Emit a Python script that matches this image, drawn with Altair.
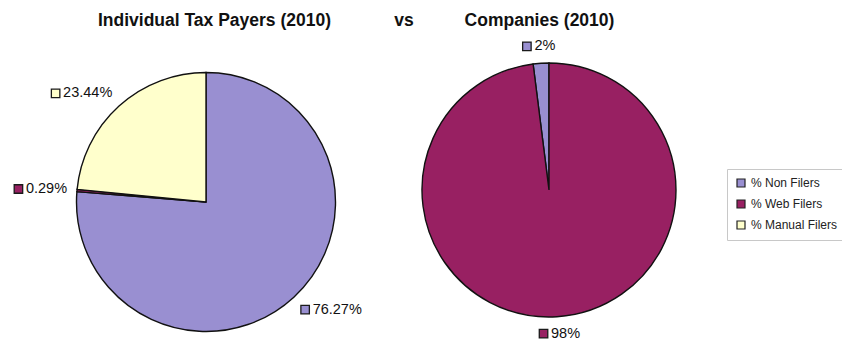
import altair as alt
import pandas as pd

# ---------------- data ----------------
categories = ["% Non Filers", "% Web Filers", "% Manual Filers"]
colors = ["#998fd1", "#982062", "#ffffcc"]

pie_titles = ["Individual Tax Payers (2010)", "Companies (2010)"]
middle_title = "vs"

individual_values = [76.27, 0.29, 23.44]
individual_labels = ["76.27%", "0.29%", "23.44%"]
individual_order = [1, 2, 3]

company_values = [2, 98, 0]
company_labels = ["2%", "98%", "0%"]
company_order = [2, 1, 3]

rows = []
for key, vals, labs, ords in [
    ("ind", individual_values, individual_labels, individual_order),
    ("comp", company_values, company_labels, company_order),
]:
    for c, v, l, o in zip(categories, vals, labs, ords):
        if v > 0:
            rows.append(dict(pie=key, category=c, value=v, label=l, ord=o))
df = pd.DataFrame(rows)

# ---------------- layout ----------------
CX = {"ind": 198, "comp": 541}
CY = {"ind": 194, "comp": 182}
R = {"ind": 129.5, "comp": 127}
FONT = "Liberation Sans"
LFS = 14.5  # label font size

color = alt.Color(
    "category:N",
    scale=alt.Scale(domain=categories, range=colors),
    legend=alt.Legend(
        orient="none", legendX=719, legendY=161, title=None,
        symbolType="square", symbolSize=64, symbolStrokeColor="#222222",
        symbolStrokeWidth=1.2, symbolOpacity=1,
        labelFont=FONT, labelFontSize=12, labelColor="#222222",
        padding=8, strokeColor="#c8c8c8", fillColor="white",
        rowPadding=7, labelOffset=4,
    ),
)


def pie_layer(key):
    return (
        alt.Chart(df)
        .transform_filter(alt.datum.pie == key)
        .mark_arc(outerRadius=R[key], stroke="#111111", strokeWidth=1.4)
        .encode(
            theta=alt.Theta("value:Q", stack=True),
            color=color,
            order=alt.Order("ord:Q"),
            x=alt.value(CX[key]),
            y=alt.value(CY[key]),
        )
    )


def label_base(key):
    r0 = R[key] + 10
    cx, cy = CX[key], CY[key]
    k = LFS / 14.0
    return (
        alt.Chart(df)
        .transform_filter(alt.datum.pie == key)
        .transform_joinaggregate(total="sum(value)")
        .transform_window(cum="sum(value)", sort=[alt.SortField("ord")])
        .transform_calculate(
            a="2*PI*(datum.cum - datum.value/2)/datum.total",
            s="sin(datum.a)",
            c="cos(datum.a)",
            dots="indexof(datum.label, '.') >= 0 ? 1 : 0",
        )
        .transform_calculate(
            tw=f"{k}*((length(datum.label) - 1 - datum.dots)*7.8 + datum.dots*3.9 + 12.4)",
        )
        .transform_calculate(w="12 + datum.tw")
        .transform_calculate(
            bx=f"{cx} + {r0}*datum.s + datum.w/2*clamp(1.5*datum.s, -1, 1)",
            by=f"{cy} - {r0}*datum.c - 7*datum.c",
        )
        .transform_calculate(
            mx="datum.bx - datum.w/2 + 4.5",
            lx="datum.bx - datum.w/2 + 12",
        )
    )


def label_layers(key):
    base = label_base(key)
    markers = base.mark_square(
        size=72, filled=True, stroke="#1a1a1a", strokeWidth=1.3, opacity=1
    ).encode(
        x=alt.X("mx:Q", scale=None, axis=None),
        y=alt.Y("by:Q", scale=None, axis=None),
        color=color,
    )
    texts = base.mark_text(
        align="left", baseline="middle", fontSize=LFS, font=FONT, color="#111111"
    ).encode(
        x=alt.X("lx:Q", scale=None, axis=None),
        y=alt.Y("by:Q", scale=None, axis=None),
        text="label:N",
    )
    return [markers, texts]


def title_layer(text, x):
    return (
        alt.Chart(pd.DataFrame({"t": [text]}))
        .mark_text(fontSize=17.5, fontWeight="bold", font=FONT, color="#111111",
                   align="center", baseline="alphabetic")
        .encode(text="t:N", x=alt.value(x), y=alt.value(17.5))
    )


layers = [pie_layer("ind"), pie_layer("comp")]
layers += label_layers("ind") + label_layers("comp")
layers += [
    title_layer(pie_titles[0], 206.5),
    title_layer(middle_title, 396),
    title_layer(pie_titles[1], 531.5),
]

chart = (
    alt.layer(*layers)
    .properties(width=834, height=340, padding=0,
                autosize=alt.AutoSizeParams(type="none"))
    .configure_view(stroke=None)
)

chart.save("out.html", embed_options={"renderer": "svg", "actions": False})
